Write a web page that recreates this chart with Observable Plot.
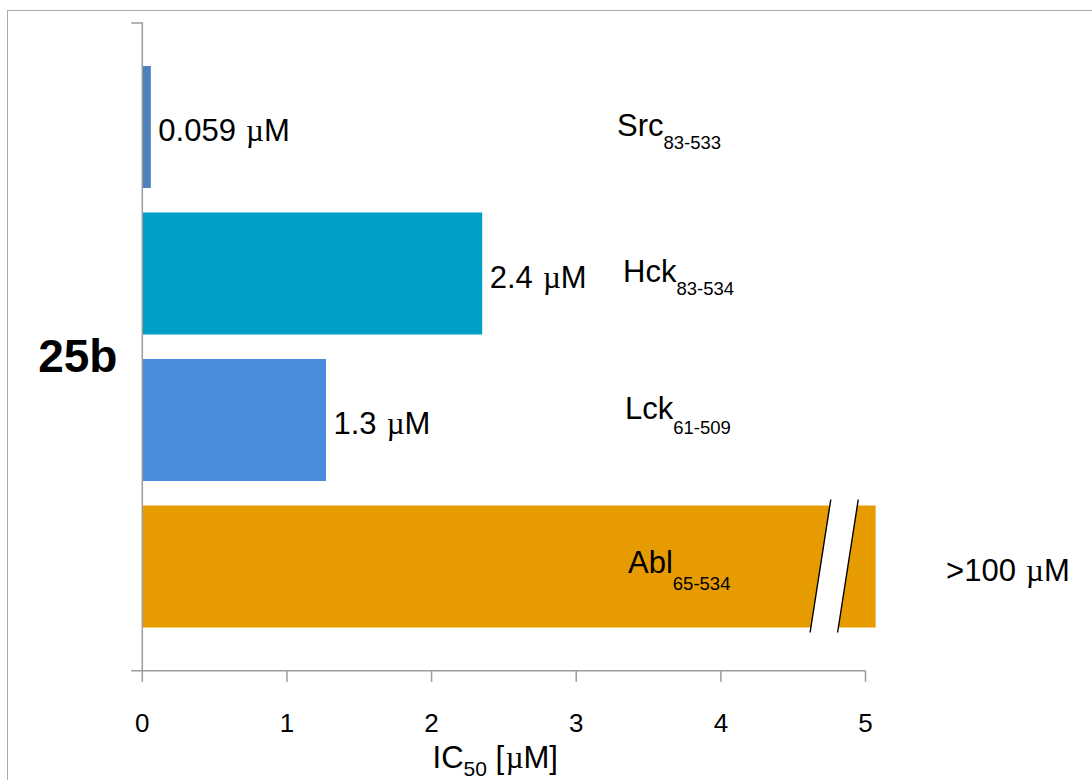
<!DOCTYPE html>
<html>
<head>
<meta charset="utf-8">
<script src="https://cdn.jsdelivr.net/npm/d3@7"></script>
<script src="https://cdn.jsdelivr.net/npm/@observablehq/plot@0.6"></script>
<style>
  html, body { margin: 0; padding: 0; background: #fff; }
  #wrap { position: relative; width: 1092px; height: 780px; overflow: hidden; }
  #border { position: absolute; left: 7px; top: 9.5px; width: 1300px; height: 1000px;
            border-top: 1.6px solid #ababab; border-left: 1.6px solid #ababab; pointer-events: none; }
</style>
</head>
<body>
<div id="wrap"><div id="chart"></div><div id="border"></div></div>
<script>
// ---- data ----
const kinases     = ["Src", "Hck", "Lck", "Abl"];
const constructs  = ["83-533", "83-534", "61-509", "65-534"];
const barLengths  = [0.059, 2.35, 1.27, 5.07];   // Abl drawn truncated (axis break), real value >100 µM
const valueLabels = ["0.059 µM", "2.4 µM", "1.3 µM", ">100 µM"];
const barColors   = ["#4F81BD", "#00A0C6", "#4A8CDC", "#E69B00"];
const xTicks      = [0, 1, 2, 3, 4, 5];
const compound    = "25b";
const axisTitle   = {main: "IC", sub: "50", rest: " [µM]"};

const rows = kinases.map((k, i) => ({
  kinase: k, construct: constructs[i], value: barLengths[i], label: valueLabels[i], color: barColors[i]
}));

const FONT = "'Liberation Sans', Arial, Helvetica, sans-serif";
const MU_FONT = "'Liberation Serif', 'Times New Roman', serif";
const GRAY = "#9c9c9c";

// write a string into an svg text element, rendering µ with a symbol-like serif glyph
function appendRich(el, str) {
  const parts = str.split("µ");
  parts.forEach((p, j) => {
    if (p) d3.select(el).append("tspan").text(p);
    if (j < parts.length - 1) d3.select(el).append("tspan").attr("font-family", MU_FONT).attr("dx", 1.5).text("µ");
  });
}
function richRender(index, scales, values, dims, context, next) {
  const g = next(index, scales, values, dims, context);
  d3.select(g).selectAll("text").each(function () {
    const t = this.textContent; this.textContent = ""; appendRich(this, t);
  });
  return g;
}

// axis lines (L-shaped), tick marks and tick labels from the tick list
function xAxis(index, scales, values, dims) {
  const x = scales.x;
  const yb = dims.height - dims.marginBottom, yt = dims.marginTop;
  const g = d3.create("svg:g");
  let d = `M${x(0) - 11},${yt}H${x(0)}V${yb}M${x(0) - 11},${yb}H${x(xTicks[xTicks.length - 1])}`;
  xTicks.forEach(t => { d += `M${x(t)},${yb}V${yb + 11}`; });
  g.append("path").attr("d", d)
    .attr("fill", "none").attr("stroke", GRAY).attr("stroke-width", 1.5);
  const lab = g.append("g").attr("font-family", FONT).attr("text-anchor", "middle").attr("fill", "black")
    .style("font-size", "26px");
  xTicks.forEach(t => {
    lab.append("text").attr("x", x(t)).attr("y", yb + 61.5).style("font-size", "26px").text(String(t));
  });
  return g.node();
}

// axis break drawn across the Abl bar
const breakSpec = {kinase: "Abl", top: 4.76, bottom: 4.617, gap: 0.19, over: 6};
function axisBreak(index, scales) {
  const x = scales.x, y = scales.y, bw = y.bandwidth();
  const y0 = y(breakSpec.kinase) - breakSpec.over, y1 = y(breakSpec.kinase) + bw + breakSpec.over - 1;
  const xt = x(breakSpec.top), xb = x(breakSpec.bottom), gw = x(breakSpec.top + breakSpec.gap) - xt;
  const g = d3.create("svg:g");
  g.append("path").attr("d", `M${xt},${y0}L${xt + gw},${y0}L${xb + gw},${y1}L${xb},${y1}Z`).attr("fill", "white");
  g.append("path").attr("d", `M${xt},${y0}L${xb},${y1}M${xt + gw},${y0}L${xb + gw},${y1}`)
    .attr("stroke", "black").attr("stroke-width", 1.4).attr("fill", "none");
  return g.node();
}

// kinase names with construct subscripts
const nameNudge = {Src: [-5.5, 9, 13], Hck: [0.5, 8.5, 13], Lck: [2.5, -1.5, 15], Abl: [5.5, 6.3, 17.5]};
function nameLabels(index, scales) {
  const x = scales.x, y = scales.y, bw = y.bandwidth();
  const g = d3.create("svg:g").attr("font-family", FONT).attr("fill", "black").attr("text-anchor", "start");
  rows.forEach(r => {
    const [dx, dy, sdy] = nameNudge[r.kinase];
    const t = g.append("text")
      .attr("x", x(3.32) + dx).attr("y", y(r.kinase) + bw / 2 + dy)
      .attr("font-size", 31);
    t.append("tspan").text(r.kinase);
    t.append("tspan").attr("font-size", 18.5).attr("dy", sdy).text(r.construct);
  });
  return g.node();
}

// x axis title with subscript
function xTitle(index, scales, values, dims) {
  const x = scales.x;
  const g = d3.create("svg:g").attr("font-family", FONT).attr("fill", "black").attr("text-anchor", "start");
  const t = g.append("text").attr("x", x(2) + 1).attr("y", dims.height - 12).attr("font-size", 31);
  t.append("tspan").text(axisTitle.main);
  t.append("tspan").attr("font-size", 21).attr("dy", 8).text(axisTitle.sub);
  const rest = t.append("tspan").attr("dy", -8);
  appendRich(rest.node(), axisTitle.rest);
  return g.node();
}

const chart = Plot.plot({
  width: 1092,
  height: 780,
  marginTop: 23,
  marginBottom: 109.3,
  marginLeft: 142.3,
  marginRight: 226.5,
  style: {fontFamily: FONT, background: "transparent", overflow: "visible"},
  x: {domain: [0, 5], axis: null},
  y: {domain: kinases, range: [53.75, 639.75], paddingInner: 0.167, paddingOuter: 0.0835, round: false, axis: null},
  color: {type: "identity"},
  marks: [
    Plot.barX(rows, {x: "value", y: "kinase", fill: "color"}),
    axisBreak,
    xAxis,
    Plot.text(rows.filter(r => r.kinase !== "Abl"), {
      x: "value", y: "kinase", text: "label", dx: 7, dy: 13.5, lineAnchor: "bottom",
      textAnchor: "start", fontSize: 31, fill: "black", render: richRender
    }),
    Plot.text(rows.filter(r => r.kinase === "Abl"), {
      x: "value", y: "kinase", text: "label", dx: 70, dy: 14, lineAnchor: "bottom",
      textAnchor: "start", fontSize: 31, fill: "black", render: richRender
    }),
    nameLabels,
    Plot.text([compound], {
      frameAnchor: "left", text: d => d, dx: -104.6, dy: 24.2, lineAnchor: "bottom",
      textAnchor: "start", fontSize: 46, fontWeight: "bold", fill: "black"
    }),
    xTitle
  ]
});
document.getElementById("chart").appendChild(chart);
</script>
</body>
</html>
